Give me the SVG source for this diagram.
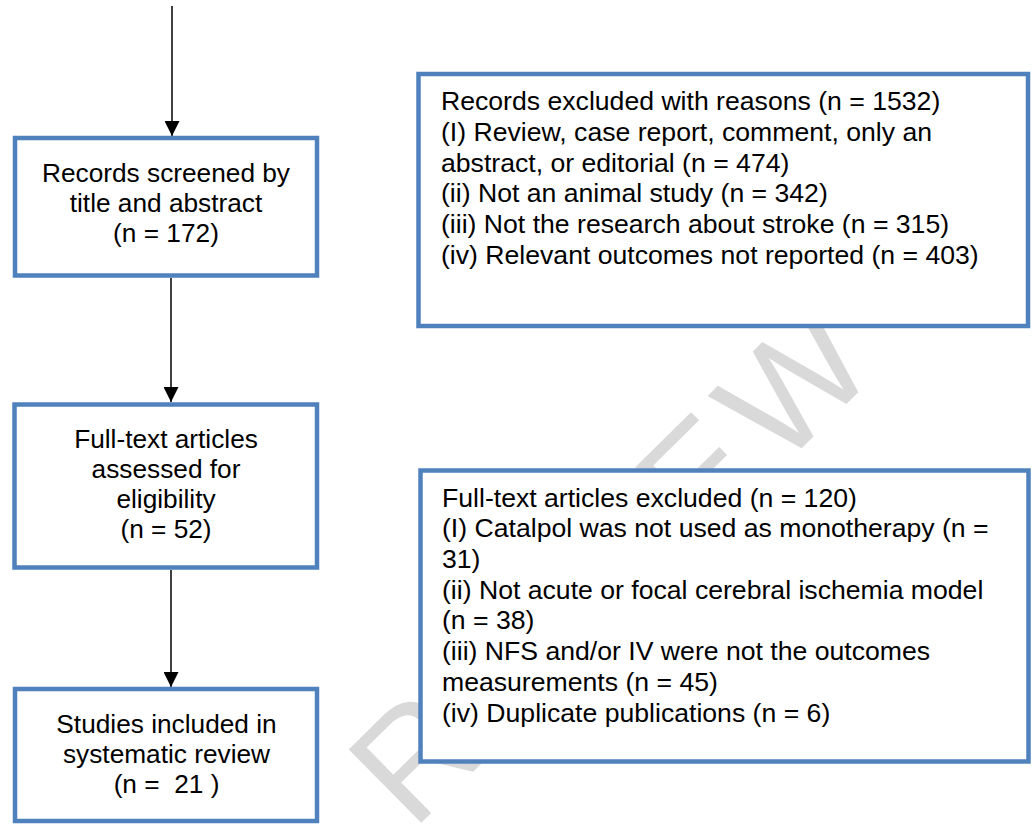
<svg xmlns="http://www.w3.org/2000/svg" width="1034" height="824" viewBox="0 0 1034 824">
  <defs>
    <style>
      .box { fill: #ffffff; stroke: #4f81bd; stroke-width: 4.5; }
      .t { font-family: "Liberation Sans", Arial, sans-serif; font-size: 25px; fill: #000000; white-space: pre; }
      .c { text-anchor: middle; }
      .conn { stroke: #000000; stroke-width: 1.5; fill: none; marker-end: url(#arrow); }
      .wm { font-family: "Liberation Sans", Arial, sans-serif; font-size: 150px; letter-spacing: 13px; fill: #d9d9d9; }
    </style>
    <marker id="arrow" markerUnits="userSpaceOnUse" markerWidth="15" markerHeight="15" refX="15" refY="7.5" orient="auto">
      <path d="M0,0 L15,7.5 L0,15 z" fill="#000000"/>
    </marker>
  </defs>
  <rect width="1034" height="824" fill="#ffffff"/>

  <g id="watermark">
    <text class="wm" x="412.6" y="831.6" transform="rotate(-44.6 412.6 831.6)">REVIEW</text>
  </g>

  <g id="connectors">
    <line class="conn" x1="172" y1="6" x2="172" y2="136"/>
    <line class="conn" x1="171" y1="278" x2="171" y2="402"/>
    <line class="conn" x1="171" y1="570" x2="171" y2="687"/>
  </g>

  <g id="screened">
    <rect class="box" x="15" y="138" width="302" height="137.5"/>
    <g transform="translate(166,0) scale(1.05,1)">
      <text class="t c" x="0" y="182.5">Records screened by</text>
      <text class="t c" x="0" y="212.5">title and abstract</text>
      <text class="t c" x="0" y="242">(n = 172)</text>
    </g>
  </g>

  <g id="fulltext">
    <rect class="box" x="14.5" y="404.5" width="302.5" height="163"/>
    <g transform="translate(166,0) scale(1.05,1)">
      <text class="t c" x="0" y="448">Full-text articles</text>
      <text class="t c" x="0" y="478">assessed for</text>
      <text class="t c" x="0" y="508">eligibility</text>
      <text class="t c" x="0" y="538">(n = 52)</text>
    </g>
  </g>

  <g id="included">
    <rect class="box" x="15" y="689" width="302" height="132"/>
    <g transform="translate(166.5,0) scale(1.05,1)">
      <text class="t c" x="0" y="733.5">Studies included in</text>
      <text class="t c" x="0" y="763.5">systematic review</text>
      <text class="t c" x="0" y="793.5">(n =  21 )</text>
    </g>
  </g>

  <g id="records-excluded">
    <rect class="box" x="418.5" y="74" width="609.5" height="252"/>
    <g transform="translate(441,0) scale(1.065,1)">
      <text class="t" x="0" y="110">Records excluded with reasons (n = 1532)</text>
      <text class="t" x="0" y="140.8">(I) Review, case report, comment, only an</text>
      <text class="t" x="0" y="171.6">abstract, or editorial (n = 474)</text>
      <text class="t" x="0" y="202.4">(ii) Not an animal study (n = 342)</text>
      <text class="t" x="0" y="233.2">(iii) Not the research about stroke (n = 315)</text>
      <text class="t" x="0" y="264">(iv) Relevant outcomes not reported (n = 403)</text>
    </g>
  </g>

  <g id="fulltext-excluded">
    <rect class="box" x="420.5" y="470.5" width="608" height="291"/>
    <g transform="translate(442,0) scale(1.065,1)">
      <text class="t" x="0" y="506.7">Full-text articles excluded (n = 120)</text>
      <text class="t" x="0" y="537.4">(I) Catalpol was not used as monotherapy (n =</text>
      <text class="t" x="0" y="568.1">31)</text>
      <text class="t" x="0" y="598.8">(ii) Not acute or focal cerebral ischemia model</text>
      <text class="t" x="0" y="629.5">(n = 38)</text>
      <text class="t" x="0" y="660.2">(iii) NFS and/or IV were not the outcomes</text>
      <text class="t" x="0" y="690.9">measurements (n = 45)</text>
      <text class="t" x="0" y="721.6">(iv) Duplicate publications (n = 6)</text>
    </g>
  </g>
</svg>
